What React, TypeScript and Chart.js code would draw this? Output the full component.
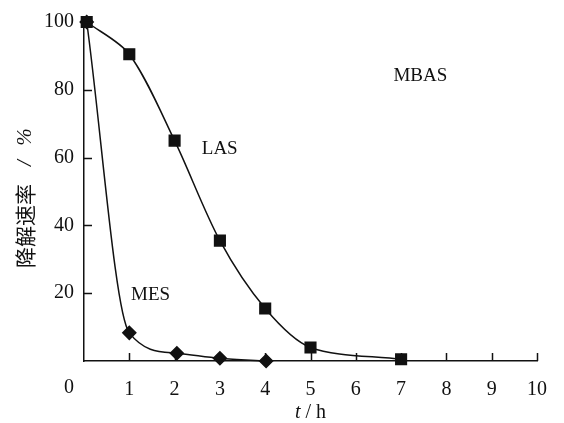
import React, { useEffect, useRef } from "react";
import { Chart, registerables } from "chart.js";

Chart.register(...registerables);

const lasX = [0.06, 1, 2, 3, 4, 5, 7];
const lasY = [100, 90.5, 65, 35.5, 15.5, 4, 0.5];
const mesX = [0.06, 1, 2.05, 3, 4.02];
const mesY = [100, 8.3, 2.3, 0.8, 0];
const xTicks = [0, 1, 2, 3, 4, 5, 6, 7, 8, 9, 10];
const yTicks = [0, 20, 40, 60, 80, 100];
const seriesLabels = ["LAS", "MES", "MBAS"];

const SERIF = '"Liberation Serif", "Times New Roman", serif';
const CJK = '"Noto Sans CJK SC", sans-serif';

export default function App() {
  const ref = useRef<HTMLCanvasElement>(null);
  useEffect(() => {
    const canvas = ref.current!;
    const decor = {
      id: "decor",
      afterDraw(chart: any) {
        const ctx = chart.ctx;
        const xs = chart.scales.x;
        const ys = chart.scales.y;
        ctx.save();
        ctx.strokeStyle = "#111";
        ctx.lineWidth = 1.5;
        ctx.beginPath();
        for (const v of xTicks) {
          if (v === 0) continue;
          const px = Math.round(xs.getPixelForValue(v)) + 0.5;
          const py = ys.getPixelForValue(0);
          ctx.moveTo(px, py);
          ctx.lineTo(px, py - 8);
        }
        for (const v of yTicks) {
          if (v === 0) continue;
          const py = Math.round(ys.getPixelForValue(v)) + 0.5;
          const px = xs.getPixelForValue(0);
          ctx.moveTo(px, py);
          ctx.lineTo(px + 8, py);
        }
        ctx.stroke();
        ctx.fillStyle = "#111";
        ctx.font = `20px ${SERIF}`;
        ctx.textAlign = "center";
        ctx.textBaseline = "middle";
        ctx.fillText("0", xs.getPixelForValue(0) - 15, ys.getPixelForValue(0) + 27);
        ctx.font = `19px ${SERIF}`;
        ctx.textAlign = "left";
        ctx.fillText(seriesLabels[0], xs.getPixelForValue(2.6), ys.getPixelForValue(62.5));
        ctx.fillText(seriesLabels[1], xs.getPixelForValue(1.04), ys.getPixelForValue(19.5));
        ctx.fillText(seriesLabels[2], xs.getPixelForValue(6.83), ys.getPixelForValue(84));
        // x title
        const cx = (xs.left + xs.right) / 2;
        const ty = 413;
        ctx.font = `italic 20px ${SERIF}`;
        const tW = ctx.measureText("t").width;
        ctx.font = `20px ${SERIF}`;
        const rest = " / h";
        const rW = ctx.measureText(rest).width;
        const start = cx - (tW + rW) / 2;
        ctx.font = `italic 20px ${SERIF}`;
        ctx.fillText("t", start, ty);
        ctx.font = `20px ${SERIF}`;
        ctx.fillText(rest, start + tW, ty);
        // y title (rotated; u = -canvasY)
        ctx.translate(25, 0);
        ctx.rotate(-Math.PI / 2);
        ctx.textAlign = "left";
        ctx.font = `21px ${CJK}`;
        ctx.fillText("降解速率", -268, 0);
        ctx.font = `italic 21px ${SERIF}`;
        ctx.textAlign = "center";
        ctx.fillText("/", -163, 0);
        ctx.fillText("%", -137, 0);
        ctx.restore();
      },
    };
    const chart = new Chart(canvas, {
      type: "scatter",
      data: {
        datasets: [
          {
            label: seriesLabels[0],
            data: lasX.map((x, i) => ({ x, y: lasY[i] })),
            showLine: true,
            borderColor: "#111",
            backgroundColor: "#111",
            borderWidth: 1.5,
            pointStyle: "rect",
            pointRadius: 7.5,
            pointHoverRadius: 7.5,
            tension: 0.3,
            clip: false,
          } as any,
          {
            label: seriesLabels[1],
            data: mesX.map((x, i) => ({ x, y: mesY[i] })),
            showLine: true,
            borderColor: "#111",
            backgroundColor: "#111",
            borderWidth: 1.5,
            pointStyle: "rectRot",
            pointRadius: 6.5,
            pointHoverRadius: 6.5,
            cubicInterpolationMode: "monotone",
            clip: false,
          } as any,
        ],
      },
      options: {
        animation: false,
        responsive: false,
        events: [],
        layout: { padding: { top: 17, right: 27, left: 0, bottom: 0 } },
        plugins: {
          legend: { display: false },
          tooltip: { enabled: false },
        } as any,
        scales: {
          x: {
            type: "linear",
            min: 0,
            max: 10,
            afterFit: (s: any) => {
              s.height = 62;
            },
            afterBuildTicks: (s: any) => {
              s.ticks = xTicks.map((v) => ({ value: v }));
            },
            ticks: {
              stepSize: 1,
              padding: 17,
              color: "#111",
              font: { family: SERIF, size: 20 },
              callback: (v: any) => (v === 0 ? "" : String(v)),
              maxRotation: 0,
              autoSkip: false,
            },
            grid: { drawOnChartArea: false, drawTicks: false },
            border: { color: "#111", width: 1.5 },
          },
          y: {
            type: "linear",
            min: 0,
            max: 100,
            afterFit: (s: any) => {
              s.width = 84;
            },
            afterBuildTicks: (s: any) => {
              s.ticks = yTicks.map((v) => ({ value: v }));
            },
            ticks: {
              stepSize: 20,
              padding: 10,
              color: "#111",
              font: { family: SERIF, size: 20 },
              callback: (v: any) => (v === 0 ? "" : String(v)),
            },
            grid: { drawOnChartArea: false, drawTicks: false },
            border: { color: "#111", width: 1.5 },
          },
        },
      },
      plugins: [decor],
    });
    return () => chart.destroy();
  }, []);
  return (
    <div style={{ position: "absolute", left: 0, top: 0, width: 564, height: 423, background: "#fff" }}>
      <canvas ref={ref} width={564} height={423} />
    </div>
  );
}
